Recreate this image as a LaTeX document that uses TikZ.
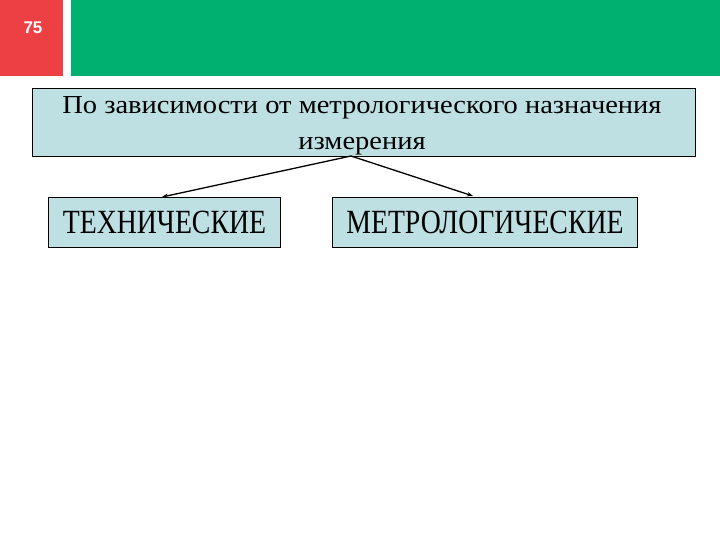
\documentclass[tikz,border=0pt]{standalone}
\usepackage{fontspec}
\setmainfont{Liberation Serif}
\newfontfamily\numfont{Liberation Sans}
\newfontfamily\widefont[FakeStretch=1.1]{Liberation Serif}
\newfontfamily\narrowfont[FakeStretch=0.82]{Liberation Serif}
\usetikzlibrary{arrows.meta}
\definecolor{topred}{RGB}{236,64,68}
\definecolor{topgreen}{RGB}{0,176,112}
\definecolor{boxblue}{RGB}{190,224,226}
\tikzset{
  catbox/.style={draw=black, line width=0.9bp, fill=boxblue, inner sep=0pt},
  cattext/.style={font=\narrowfont\fontsize{34}{36}\selectfont},
  link/.style={-{Stealth[length=6bp,width=4.5bp]}, line width=1.3bp}
}
\begin{document}
\begin{tikzpicture}[x=1bp,y=-1bp]
\useasboundingbox[fill=white] (0,0) rectangle (720,540);
\fill[topred] (0,0) rectangle (63,76);
\fill[topgreen] (71,0) rectangle (720,76);
\node[text=white, font=\numfont\bfseries\fontsize{17}{20}\selectfont] (num) at (33,28) {75};
\node[catbox, minimum width=663bp, minimum height=68bp, anchor=north west] (main) at (32,88) {};
\node[align=center, inner sep=0pt, font=\widefont\fontsize{26}{36}\selectfont] (maintext) at (362,126) {По зависимости от метрологического назначения\\измерения};
\node[catbox, cattext, minimum width=232bp, minimum height=50bp, anchor=north west] (tech) at (48,197) {ТЕХНИЧЕСКИЕ};
\node[catbox, cattext, minimum width=305bp, minimum height=50bp, anchor=north west] (metro) at (332,197) {МЕТРОЛОГИЧЕСКИЕ};
\coordinate (src) at (351,156);
\draw[link] (src) -- (162,197);
\draw[link] (src) -- (473,196);
\end{tikzpicture}
\end{document}
